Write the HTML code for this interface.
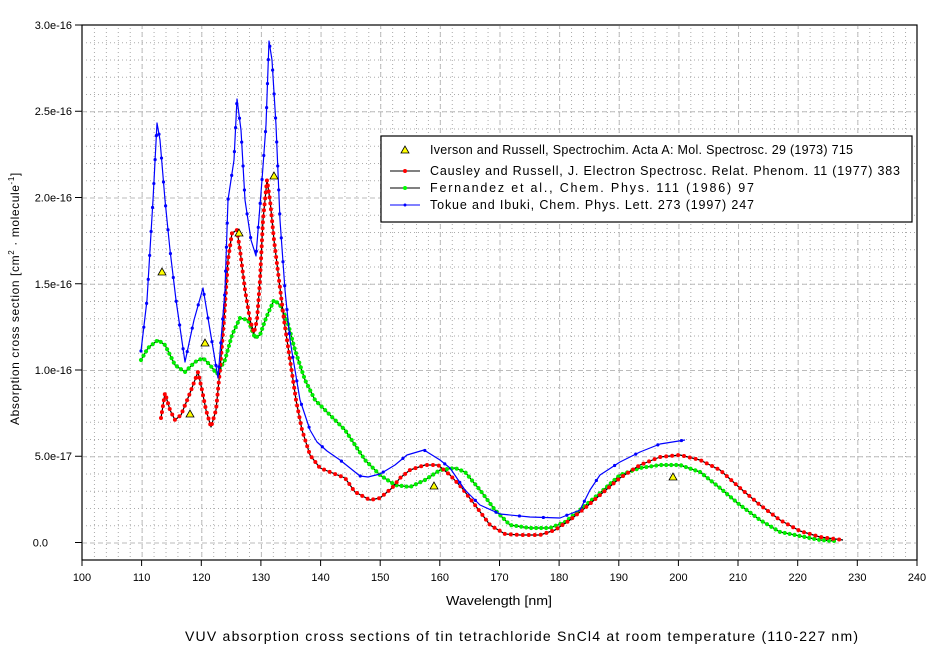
<!DOCTYPE html><html><head><meta charset="utf-8"><style>body{margin:0;background:#fff}svg{display:block;font-family:"Liberation Sans",sans-serif}</style></head><body>
<svg width="942" height="651" xmlns="http://www.w3.org/2000/svg">
<defs>
<pattern id="mv" patternUnits="userSpaceOnUse" x="82" y="0" width="11.928" height="4"><rect x="0" y="0" width="1" height="1" fill="#aaa"/></pattern>
<pattern id="mh" patternUnits="userSpaceOnUse" x="82" y="542.5" width="4" height="17.25"><rect x="0" y="0" width="1" height="1" fill="#aaa"/></pattern>
<pattern id="Mv" patternUnits="userSpaceOnUse" x="82" y="0" width="59.64" height="8"><rect x="0" y="0" width="1" height="5" fill="#bbb"/></pattern>
<pattern id="Mh" patternUnits="userSpaceOnUse" x="82" y="542.5" width="8" height="86.25"><rect x="0" y="0" width="5" height="1" fill="#bbb"/></pattern>
</defs>
<rect width="942" height="651" fill="#fff"/>
<rect x="83" y="26" width="833" height="533" fill="url(#mv)"/>
<rect x="83" y="26" width="833" height="533" fill="url(#mh)"/>
<rect x="83" y="26" width="833" height="533" fill="url(#Mv)"/>
<rect x="83" y="26" width="833" height="533" fill="url(#Mh)"/>

<g fill="none" stroke-linejoin="round">
<polyline stroke="#000" stroke-width="1.2" points="141,360 148,348 158,340 165,345 175,365 185,372 195,362 203,358 210,365 217,374 225,360 232,335 240,318 248,320 255,338 260,335 266,318 274,300 280,305 287,320 295,350 305,380 315,400 330,415 345,430 355,445 365,460 380,475 395,485 410,487 425,480 440,470 455,468 465,472 480,490 495,510 510,525 530,528 550,528 565,522 580,510 600,493 620,475 640,468 660,465 680,465 700,472 720,488 740,505 760,520 780,532 800,536 820,540 835,541"/>
<polyline stroke="#0e0" stroke-width="4.2" stroke-linecap="round" stroke-dasharray="0 5" points="141,360 148,348 158,340 165,345 175,365 185,372 195,362 203,358 210,365 217,374 225,360 232,335 240,318 248,320 255,338 260,335 266,318 274,300 280,305 287,320 295,350 305,380 315,400 330,415 345,430 355,445 365,460 380,475 395,485 410,487 425,480 440,470 455,468 465,472 480,490 495,510 510,525 530,528 550,528 565,522 580,510 600,493 620,475 640,468 660,465 680,465 700,472 720,488 740,505 760,520 780,532 800,536 820,540 835,541"/>
<polyline stroke="#000" stroke-width="1.2" points="161,418 165,393 170,410 175,420 181,415 190,393 198,372 202,390 206,410 211,427 216,410 220,370 224,320 228,260 232,233 237,230 240,250 245,290 250,320 254,333 257,320 260,280 263,220 267,180 270,200 274,240 279,280 284,320 290,360 296,400 302,430 310,455 320,468 330,472 345,478 355,492 370,500 380,498 392,488 400,478 410,470 425,465 438,465 450,475 462,488 475,505 490,525 505,534 520,535 540,535 555,530 570,520 585,508 600,495 620,478 640,465 660,457 680,455 700,460 720,470 740,488 760,505 780,520 800,531 820,537 843,540"/>
<polyline stroke="#f00" stroke-width="4" stroke-linecap="round" stroke-dasharray="0 6" points="161,418 165,393 170,410 175,420 181,415 190,393 198,372 202,390 206,410 211,427 216,410 220,370 224,320 228,260 232,233 237,230 240,250 245,290 250,320 254,333 257,320 260,280 263,220 267,180 270,200 274,240 279,280 284,320 290,360 296,400 302,430 310,455 320,468 330,472 345,478 355,492 370,500 380,498 392,488 400,478 410,470 425,465 438,465 450,475 462,488 475,505 490,525 505,534 520,535 540,535 555,530 570,520 585,508 600,495 620,478 640,465 660,457 680,455 700,460 720,470 740,488 760,505 780,520 800,531 820,537 843,540"/>
<polyline stroke="#00f" stroke-width="1.2" points="141,351 147,300 153,200 157,123 160,140 165,200 170,250 176,300 185,362 194,320 203,288 210,330 218,378 225,290 228,200 234,160 237,99 241,130 245,200 251,240 256,256 262,180 266,125 269,41 272,60 276,125 280,220 285,290 290,340 300,400 310,430 317,442 327,451 340,460 350,468 360,476 368,477 380,474 395,465 407,455 424,450 440,460 450,468 465,490 480,505 500,514 530,517 560,518 580,510 590,490 600,475 620,462 640,452 660,444 685,440"/>
<polyline stroke="#00f" stroke-width="3.2" stroke-linecap="round" stroke-dasharray="0 24" points="141,351 147,300 153,200 157,123 160,140 165,200 170,250 176,300 185,362 194,320 203,288 210,330 218,378 225,290 228,200 234,160 237,99 241,130 245,200 251,240 256,256 262,180 266,125 269,41 272,60 276,125 280,220 285,290 290,340 300,400 310,430 317,442 327,451 340,460 350,468 360,476 368,477 380,474 395,465 407,455 424,450 440,460 450,468 465,490 480,505 500,514 530,517 560,518 580,510 590,490 600,475 620,462 640,452 660,444 685,440"/>
</g>
<g fill="#ff0" stroke="#000" stroke-width="0.8">
<polygon points="162,268 158,275 166,275"/><polygon points="190,410 186,417 194,417"/><polygon points="205,339 201,346 209,346"/><polygon points="239,229 235,236 243,236"/><polygon points="274,172 270,179 278,179"/><polygon points="434,482 430,489 438,489"/><polygon points="673,473 669,480 677,480"/>
</g>
<rect x="82" y="25" width="835" height="535" fill="none" stroke="#000" stroke-width="1.2"/>
<g stroke="#000">
<line x1="82" y1="560" x2="82" y2="566"/><line x1="141.6" y1="560" x2="141.6" y2="566"/><line x1="201.3" y1="560" x2="201.3" y2="566"/><line x1="260.9" y1="560" x2="260.9" y2="566"/><line x1="320.6" y1="560" x2="320.6" y2="566"/><line x1="380.2" y1="560" x2="380.2" y2="566"/><line x1="439.8" y1="560" x2="439.8" y2="566"/><line x1="499.5" y1="560" x2="499.5" y2="566"/><line x1="559.1" y1="560" x2="559.1" y2="566"/><line x1="618.8" y1="560" x2="618.8" y2="566"/><line x1="678.4" y1="560" x2="678.4" y2="566"/><line x1="738" y1="560" x2="738" y2="566"/><line x1="797.7" y1="560" x2="797.7" y2="566"/><line x1="857.3" y1="560" x2="857.3" y2="566"/><line x1="917" y1="560" x2="917" y2="566"/>
<line x1="75" y1="542.5" x2="82" y2="542.5"/><line x1="75" y1="456.25" x2="82" y2="456.25"/><line x1="75" y1="370" x2="82" y2="370"/><line x1="75" y1="283.75" x2="82" y2="283.75"/><line x1="75" y1="197.5" x2="82" y2="197.5"/><line x1="75" y1="111.25" x2="82" y2="111.25"/><line x1="75" y1="25" x2="82" y2="25"/>
</g>
<g font-size="11" text-anchor="middle">
<text x="82" y="581">100</text><text x="141.6" y="581">110</text><text x="201.3" y="581">120</text><text x="260.9" y="581">130</text><text x="320.6" y="581">140</text><text x="380.2" y="581">150</text><text x="439.8" y="581">160</text><text x="499.5" y="581">170</text><text x="559.1" y="581">180</text><text x="618.8" y="581">190</text><text x="678.4" y="581">200</text><text x="738" y="581">210</text><text x="797.7" y="581">220</text><text x="857.3" y="581">230</text><text x="917" y="581">240</text>
</g>
<g font-size="11" text-anchor="end">
<text x="48" y="546.5">0.0</text><text x="72" y="460">5.0e-17</text><text x="72" y="374">1.0e-16</text><text x="72" y="288">1.5e-16</text><text x="72" y="201.5">2.0e-16</text><text x="72" y="115">2.5e-16</text><text x="72" y="29">3.0e-16</text>
</g>
<text x="446" y="605" font-size="12.5" textLength="106" lengthAdjust="spacingAndGlyphs">Wavelength [nm]</text>
<text transform="translate(19,425) rotate(-90)" font-size="12" letter-spacing="0.6">Absorption cross section [cm<tspan dy="-5" font-size="8">2</tspan><tspan dy="5"> · molecule</tspan><tspan dy="-5" font-size="8">-1</tspan><tspan dy="5">]</tspan></text>
<text x="185" y="641" font-size="14" textLength="673" lengthAdjust="spacing">VUV absorption cross sections of tin tetrachloride SnCl4 at room temperature (110-227 nm)</text>
<rect x="381" y="136" width="531" height="86" fill="#fff" stroke="#000" stroke-width="1.2"/>
<g font-size="12.5">
<polygon points="405,146 401,153 409,153" fill="#ff0" stroke="#000" stroke-width="0.8"/>
<text x="430" y="154" textLength="423" lengthAdjust="spacing">Iverson and Russell,  Spectrochim. Acta A: Mol. Spectrosc. 29 (1973) 715</text>
<line x1="390" y1="171" x2="420" y2="171" stroke="#000"/><circle cx="405" cy="171" r="2" fill="#f00"/>
<text x="430" y="175" textLength="470" lengthAdjust="spacing">Causley and Russell,  J. Electron Spectrosc. Relat. Phenom. 11 (1977) 383</text>
<line x1="390" y1="188" x2="420" y2="188" stroke="#000"/><circle cx="405" cy="188" r="2" fill="#0f0"/>
<text x="430" y="192" textLength="324" lengthAdjust="spacing">Fernandez et al., Chem. Phys. 111 (1986) 97</text>
<line x1="390" y1="205" x2="420" y2="205" stroke="#00f"/><circle cx="405" cy="205" r="1.5" fill="#00f"/>
<text x="430" y="209" textLength="324" lengthAdjust="spacing">Tokue and Ibuki,  Chem. Phys. Lett. 273 (1997) 247</text>
</g>
</svg></body></html>
